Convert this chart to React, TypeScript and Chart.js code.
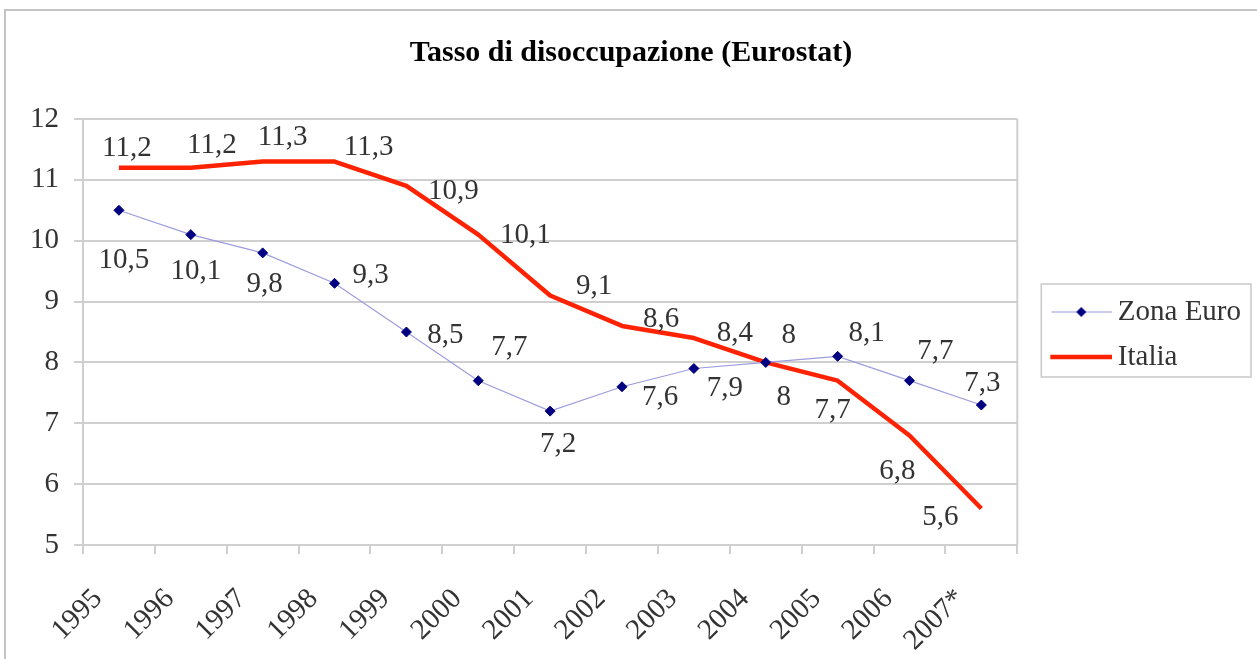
import React, { useEffect, useRef } from 'react';
import { Chart, registerables } from 'chart.js';

Chart.register(...registerables);

const chartTitle = 'Tasso di disoccupazione (Eurostat)';
const categories = ['1995', '1996', '1997', '1998', '1999', '2000', '2001', '2002', '2003', '2004', '2005', '2006', '2007*'];
const seriesNames = ['Zona Euro', 'Italia'];
const zonaEuro = [10.5, 10.1, 9.8, 9.3, 8.5, 7.7, 7.2, 7.6, 7.9, 8, 8.1, 7.7, 7.3];
const italia = [11.2, 11.2, 11.3, 11.3, 10.9, 10.1, 9.1, 8.6, 8.4, 8, 7.7, 6.8, 5.6];
const yMin = 5;
const yMax = 12;
const yStep = 1;

// value-label placement relative to each point (pixels)
const zonaEuroLabelOffsets = [[5, 50], [5, 37], [2, 32], [36, -8], [39, 3], [31, -33], [8, 33], [38, 11], [31, 20], [18, 35], [29, -23], [26, -29], [1, -22]];
const italiaLabelOffsets = [[8, -19], [21, -22], [20, -24], [34, -14], [47, 5], [47, 1], [44, -9], [39, -7], [41, -5], [23, -27], [-5, 30], [-12, 36], [-41, 9]];

const FONT = "'Liberation Serif', 'Times New Roman', serif";
const TEXT = '#333333';
const GRID = '#cfcfcf';
const EURO_LINE = '#9c9ce0';
const EURO_MARK = '#000080';
const ITALIA = '#ff2200';

function makeLegendImage(kind: 'euro' | 'italia') {
  const c = document.createElement('canvas');
  c.width = 88;
  c.height = 12;
  const ctx = c.getContext('2d')!;
  if (kind === 'euro') {
    ctx.strokeStyle = EURO_LINE;
    ctx.lineWidth = 1.2;
    ctx.beginPath();
    ctx.moveTo(27, 6);
    ctx.lineTo(88, 6);
    ctx.stroke();
    ctx.fillStyle = EURO_MARK;
    ctx.beginPath();
    ctx.moveTo(57, 1);
    ctx.lineTo(62, 6);
    ctx.lineTo(57, 11);
    ctx.lineTo(52, 6);
    ctx.closePath();
    ctx.fill();
  } else {
    ctx.strokeStyle = ITALIA;
    ctx.lineWidth = 4.5;
    ctx.beginPath();
    ctx.moveTo(26, 6);
    ctx.lineTo(88, 6);
    ctx.stroke();
  }
  return c;
}

export default function App() {
  const ref = useRef<HTMLCanvasElement | null>(null);

  useEffect(() => {
    if (!ref.current) return;
    const legendImages = [makeLegendImage('euro'), makeLegendImage('italia')];
    const labelOffsets = [zonaEuroLabelOffsets, italiaLabelOffsets];

    const framePlugin = {
      id: 'frame',
      beforeDraw(chart: any) {
        const ctx = chart.ctx;
        ctx.save();
        ctx.strokeStyle = '#c4c4c4';
        ctx.lineWidth = 2;
        ctx.beginPath();
        ctx.moveTo(5, chart.height);
        ctx.lineTo(5, 10);
        ctx.lineTo(chart.width, 10);
        ctx.stroke();
        ctx.restore();
      },
      afterDraw(chart: any) {
        const ctx = chart.ctx;
        const a = chart.chartArea;
        ctx.save();
        ctx.strokeStyle = GRID;
        ctx.lineWidth = 2;
        ctx.beginPath();
        ctx.moveTo(a.right, a.top);
        ctx.lineTo(a.right, a.bottom);
        ctx.stroke();
        const hb = chart.legend && chart.legend.legendHitBoxes;
        if (hb && hb.length >= 2) {
          const left = hb[0].left + 8;
          const right = hb[0].left + hb[0].width + 10;
          const top = hb[0].top + 14.5 - 28;
          const bottom = hb[1].top + 14.5 + 20;
          ctx.strokeStyle = '#c8c8c8';
          ctx.lineWidth = 1.5;
          ctx.strokeRect(left, top, right - left, bottom - top);
        }
        ctx.restore();
      },
    };

    const valueLabels = {
      id: 'valueLabels',
      afterDatasetsDraw(chart: any) {
        const ctx = chart.ctx;
        ctx.save();
        ctx.font = `29px ${FONT}`;
        ctx.fillStyle = TEXT;
        ctx.textAlign = 'center';
        ctx.textBaseline = 'middle';
        chart.data.datasets.forEach((ds: any, di: number) => {
          const meta = chart.getDatasetMeta(di);
          meta.data.forEach((pt: any, i: number) => {
            const v = ds.data[i];
            const off = labelOffsets[di][i];
            ctx.fillText(String(v).replace('.', ','), pt.x + off[0], pt.y + off[1]);
          });
        });
        ctx.restore();
      },
    };

    const chart = new Chart(ref.current, {
      type: 'line',
      data: {
        labels: categories,
        datasets: [
          {
            label: seriesNames[0],
            data: zonaEuro,
            borderColor: EURO_LINE,
            borderWidth: 1.2,
            pointStyle: 'rectRot',
            pointRadius: 5,
            pointBackgroundColor: EURO_MARK,
            pointBorderColor: EURO_MARK,
            pointBorderWidth: 1,
            tension: 0,
            fill: false,
          },
          {
            label: seriesNames[1],
            data: italia,
            borderColor: ITALIA,
            backgroundColor: ITALIA,
            borderWidth: 4.5,
            pointRadius: 0,
            tension: 0,
            fill: false,
            borderJoinStyle: 'round',
          },
        ],
      },
      options: {
        responsive: false,
        animation: false,
        layout: { padding: { left: 11, right: 6, top: 10, bottom: 0 } },
        scales: {
          x: {
            type: 'category',
            offset: true,
            grid: {
              offset: true,
              drawOnChartArea: false,
              drawTicks: true,
              tickLength: 9,
              color: GRID,
              lineWidth: 2,
            },
            border: { display: true, color: GRID, width: 2 },
            ticks: {
              autoSkip: false,
              minRotation: 45,
              maxRotation: 45,
              labelOffset: -21,
              padding: 28,
              color: TEXT,
              font: { family: FONT, size: 29 },
            },
            afterFit(scale: any) {
              scale.height = 114;
            },
          },
          y: {
            min: yMin,
            max: yMax,
            ticks: {
              stepSize: yStep,
              padding: 15,
              color: TEXT,
              font: { family: FONT, size: 29 },
            },
            grid: { color: GRID, lineWidth: 2, tickLength: 9, drawTicks: true },
            border: { display: true, color: GRID, width: 2 },
            afterFit(scale: any) {
              scale.width = 72;
            },
          },
        },
        plugins: {
          tooltip: { enabled: false },
          title: {
            display: true,
            text: chartTitle,
            color: '#000000',
            font: { family: FONT, size: 30, weight: 'bold' },
            padding: { top: 25, bottom: 48 },
          },
          legend: {
            position: 'right',
            labels: {
              usePointStyle: true,
              pointStyleWidth: 70,
              padding: 16,
              color: TEXT,
              font: { family: FONT, size: 29 },
              generateLabels(ch: any) {
                const items = (Chart.defaults.plugins.legend.labels as any).generateLabels(ch);
                return items.map((it: any, i: number) => ({ ...it, pointStyle: legendImages[i], fontColor: TEXT }));
              },
            },
          },
        },
      } as any,
      plugins: [framePlugin, valueLabels],
    });

    return () => chart.destroy();
  }, []);

  return (
    <div style={{ position: 'absolute', left: 0, top: 0, width: 1257, height: 659, background: '#fff' }}>
      <canvas ref={ref} width={1257} height={659} style={{ display: 'block' }} />
    </div>
  );
}
